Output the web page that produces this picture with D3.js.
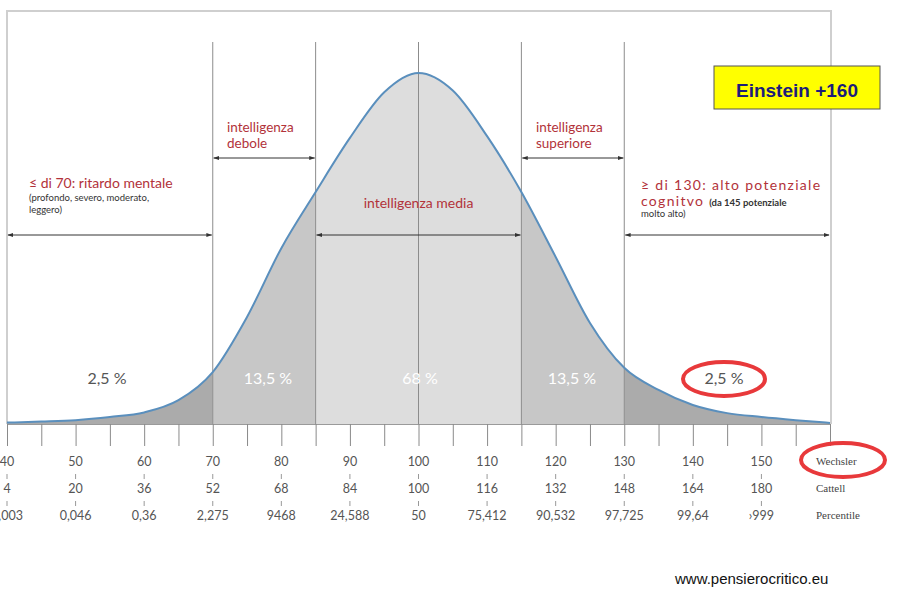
<!DOCTYPE html>
<html>
<head>
    <meta charset="utf-8">
    <title>Distribuzione QI</title>
    <script src="https://d3js.org/d3.v7.min.js"></script>
    <style>
        body { margin: 0; background: #fff; }
        svg { display: block; }
        .tick line { stroke: #8a8a8a; }
        .domain { stroke: #9a9a9a; }
    </style>
</head>
<body>
    <script>
        // QI values (Wechsler) and relative curve height (% of peak)
        const iq = [40, 45, 50, 55, 60, 65, 70, 75, 80, 85, 90, 95, 100, 105, 110, 115, 120, 125, 130, 135, 140, 145, 150, 155, 160];
        const density = [0.4, 0.7, 1.1, 2.0, 3.3, 6.8, 14.8, 30.5, 50.1, 66.1, 81.5, 94.5, 100, 95.0, 82.0, 66.1, 47.6, 28.8, 16.0, 9.7, 5.4, 3.1, 2.0, 1.1, 0.3];

        // tick label rows
        const wechsler = [40, 50, 60, 70, 80, 90, 100, 110, 120, 130, 140, 150];
        const cattell = ["4", "20", "36", "52", "68", "84", "100", "116", "132", "148", "164", "180"];
        const percentile = ["0,003", "0,046", "0,36", "2,275", "9468", "24,588", "50", "75,412", "90,532", "97,725", "99,64", "›999"];

        // zones
        const zoneBounds = [40, 70, 85, 115, 130, 160];
        const zonePct = ["2,5 %", "13,5 %", "68 %", "13,5 %", "2,5 %"];

        const width = 900, height = 597;
        const base = 424;

        const svg = d3.select("body").append("svg")
            .attr("width", width)
            .attr("height", height);

        const x = d3.scaleLinear().domain([40, 160]).range([7, 830]);
        const y = d3.scaleLinear().domain([0, 100]).range([base, 73]);

        const pts = iq.map((v, i) => ({ v: v, d: density[i] }));

        // frame
        svg.append("path")
            .attr("d", `M${x(40)},${base}V11H${x(160) + 1}V${base}`)
            .attr("fill", "none")
            .attr("stroke", "#cfcfcf")
            .attr("stroke-width", 2);

        // zone fills, clipped
        const zoneFill = ["#ababab", "#c7c7c7", "#dddddd", "#c7c7c7", "#ababab"];
        const area = d3.area()
            .x(d => x(d.v))
            .y0(base)
            .y1(d => y(d.d))
            .curve(d3.curveMonotoneX);

        const defs = svg.append("defs");
        zonePct.forEach((p, i) => {
            defs.append("clipPath").attr("id", "z" + i)
                .append("rect")
                .attr("x", x(zoneBounds[i]))
                .attr("y", 0)
                .attr("width", x(zoneBounds[i + 1]) - x(zoneBounds[i]))
                .attr("height", base);
            svg.append("path")
                .datum(pts)
                .attr("clip-path", `url(#z${i})`)
                .attr("fill", zoneFill[i])
                .attr("d", area);
        });

        // vertical separators
        svg.selectAll(".sep")
            .data([70, 85, 100, 115, 130])
            .enter().append("line")
            .attr("x1", d => x(d)).attr("x2", d => x(d))
            .attr("y1", 42).attr("y2", base)
            .attr("stroke", "#8c8c8c")
            .attr("stroke-width", 1);

        // curve
        const line = d3.line()
            .x(d => x(d.v))
            .y(d => y(d.d))
            .curve(d3.curveMonotoneX);
        svg.append("path")
            .datum(pts)
            .attr("fill", "none")
            .attr("stroke", "#5a8fbd")
            .attr("stroke-width", 2)
            .attr("d", line);

        // axis with ticks every 5
        const axis = d3.axisBottom(x)
            .tickValues(iq)
            .tickSize(22)
            .tickSizeOuter(0)
            .tickFormat("");
        svg.append("g")
            .attr("transform", `translate(0,${base})`)
            .call(axis);

        // arrows
        defs.append("marker")
            .attr("id", "ah")
            .attr("viewBox", "0 0 10 10")
            .attr("refX", 9).attr("refY", 5)
            .attr("markerWidth", 6).attr("markerHeight", 6)
            .attr("orient", "auto-start-reverse")
            .append("path")
            .attr("d", "M0,1.5L10,5L0,8.5Z")
            .attr("fill", "#333");

        const arrows = [[40, 70, 235], [70, 85, 158], [85, 115, 235], [115, 130, 158], [130, 160, 235]];
        svg.selectAll(".arr")
            .data(arrows)
            .enter().append("line")
            .attr("x1", d => x(d[0]) + 1).attr("x2", d => x(d[1]) - 1)
            .attr("y1", d => d[2]).attr("y2", d => d[2])
            .attr("stroke", "#333")
            .attr("stroke-width", 1)
            .attr("marker-start", "url(#ah)")
            .attr("marker-end", "url(#ah)");

        const red = "#b2323a";
        const lab = svg.append("g").attr("font-family", "Lato, 'Open Sans', sans-serif");

        lab.append("text").attr("x", 227).attr("y", 132).attr("fill", red).attr("font-size", 13.5).text("intelligenza");
        lab.append("text").attr("x", 227).attr("y", 148).attr("fill", red).attr("font-size", 13.5).text("debole");
        lab.append("text").attr("x", 536).attr("y", 132).attr("fill", red).attr("font-size", 13.5).text("intelligenza");
        lab.append("text").attr("x", 536).attr("y", 148).attr("fill", red).attr("font-size", 13.5).text("superiore");

        lab.append("text").attr("x", 29).attr("y", 188).attr("fill", red).attr("font-size", 14).text("≤ di 70: ritardo mentale");
        lab.append("text").attr("x", 29).attr("y", 201).attr("fill", "#333").attr("font-size", 9.5).text("(profondo, severo, moderato,");
        lab.append("text").attr("x", 29).attr("y", 213).attr("fill", "#333").attr("font-size", 9.5).text("leggero)");

        lab.append("text").attr("x", x(100)).attr("y", 208).attr("text-anchor", "middle")
            .attr("fill", red).attr("font-size", 14).text("intelligenza media");

        lab.append("text").attr("x", 641).attr("y", 190).attr("fill", red).attr("font-size", 14)
            .attr("letter-spacing", 1.3).text("≥ di 130: alto potenziale");
        const cog = lab.append("text").attr("x", 641).attr("y", 206);
        cog.append("tspan").attr("fill", red).attr("font-size", 14).attr("letter-spacing", 1.3).text("cognitvo ");
        cog.append("tspan").attr("fill", "#333").attr("font-size", 9.5).attr("font-weight", "bold").text("(da 145 potenziale");
        lab.append("text").attr("x", 641).attr("y", 217).attr("fill", "#333").attr("font-size", 9.5).text("molto alto)");

        // percentages
        const pctColor = ["#555", "#fff", "#fff", "#fff", "#555"];
        const pctX = [107, 268, 420, 572, 724];
        lab.selectAll(".pct")
            .data(zonePct)
            .enter().append("text")
            .attr("x", (d, i) => pctX[i])
            .attr("y", 384)
            .attr("text-anchor", "middle")
            .attr("font-size", 16)
            .attr("fill", (d, i) => pctColor[i])
            .text(d => d);

        // tick label rows
        const rows = [wechsler.map(String), cattell, percentile];
        const rowY = [466, 493, 520];
        const tl = svg.append("g").attr("font-family", "Lato, 'Open Sans', sans-serif")
            .attr("font-size", 12.5).attr("fill", "#555").attr("text-anchor", "middle");
        rows.forEach((r, j) => {
            tl.selectAll(".r" + j)
                .data(r)
                .enter().append("text")
                .attr("x", (d, i) => x(wechsler[i]))
                .attr("y", rowY[j])
                .text(d => d);
        });
        // small separators between rows
        [474, 501].forEach(yy => {
            svg.selectAll(null)
                .data(wechsler)
                .enter().append("line")
                .attr("x1", d => x(d)).attr("x2", d => x(d))
                .attr("y1", yy).attr("y2", yy + 5)
                .attr("stroke", "#999");
        });

        const serif = svg.append("g").attr("font-family", "'Liberation Serif', 'DejaVu Serif', serif")
            .attr("font-size", 11).attr("fill", "#444");
        serif.append("text").attr("x", 816).attr("y", 465).text("Wechsler");
        serif.append("text").attr("x", 816).attr("y", 492).text("Cattell");
        serif.append("text").attr("x", 816).attr("y", 519).text("Percentile");

        // red ellipses
        svg.append("ellipse").attr("cx", 724).attr("cy", 379).attr("rx", 41).attr("ry", 17)
            .attr("fill", "none").attr("stroke", "#e8393b").attr("stroke-width", 4);
        svg.append("ellipse").attr("cx", 843).attr("cy", 460).attr("rx", 42).attr("ry", 17)
            .attr("fill", "none").attr("stroke", "#e8393b").attr("stroke-width", 4);

        // Einstein box
        svg.append("rect").attr("x", 714).attr("y", 66).attr("width", 166).attr("height", 43)
            .attr("fill", "#ffff00").attr("stroke", "#555").attr("stroke-width", 1);
        svg.append("text").attr("x", 797).attr("y", 97).attr("text-anchor", "middle")
            .attr("font-family", "'Liberation Sans', Arial, sans-serif").attr("font-weight", "bold")
            .attr("font-size", 19).attr("fill", "#1c1c7a").text("Einstein +160");

        // footer
        svg.append("text").attr("x", 675).attr("y", 584)
            .attr("font-family", "'Liberation Sans', Arial, sans-serif")
            .attr("font-size", 15).attr("fill", "#111").text("www.pensierocritico.eu");
    </script>
</body>
</html>
